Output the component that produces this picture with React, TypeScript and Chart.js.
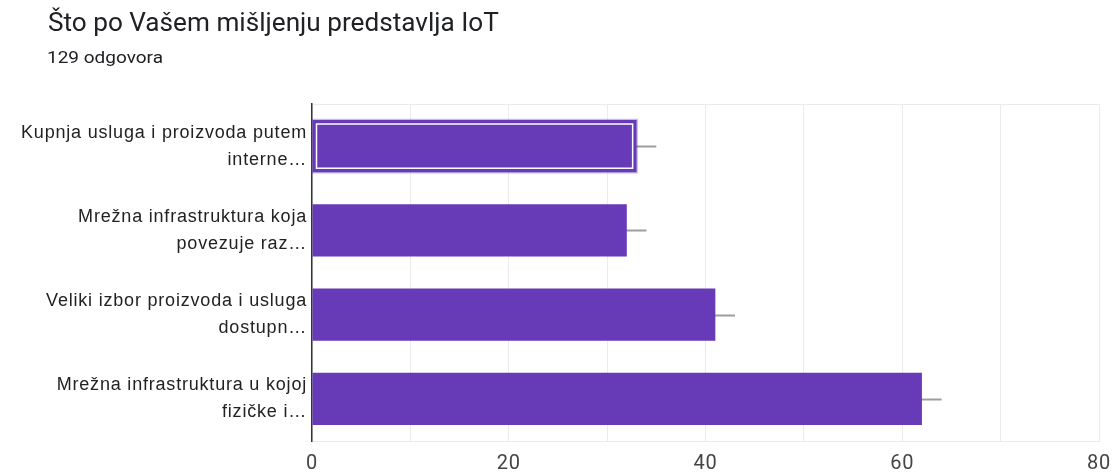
import React, { useEffect, useRef } from 'react';
import { Chart, registerables } from 'chart.js';

Chart.register(...registerables);

const TITLE = 'Što po Vašem mišljenju predstavlja IoT';
const SUBTITLE = '129 odgovora';
const categories: string[][] = [
  ['Kupnja usluga i proizvoda putem', 'interne…'],
  ['Mrežna infrastruktura koja', 'povezuje raz…'],
  ['Veliki izbor proizvoda i usluga', 'dostupn…'],
  ['Mrežna infrastruktura u kojoj', 'fizičke i…'],
];
const counts = [33, 32, 41, 62];
const errorMargins = [2, 2, 2, 2];
const xTickLabels = [0, 20, 40, 60, 80];
const HIGHLIGHTED = 0;

const BAR_COLOR = '#673ab7';

const overlayPlugin = {
  id: 'overlay',
  beforeDraw(chart: any) {
    // the reference text is slightly wider than the plain font
    chart.ctx.letterSpacing = '0.8px';
  },
  beforeDatasetsDraw(chart: any) {
    const ctx = chart.ctx;
    const xs = chart.scales.x;
    const meta = chart.getDatasetMeta(0);
    ctx.save();
    ctx.strokeStyle = '#9e9e9e';
    ctx.lineWidth = 2;
    meta.data.forEach((bar: any, i: number) => {
      const y = Math.round(bar.y) + 0.5;
      ctx.beginPath();
      ctx.moveTo(xs.getPixelForValue(counts[i] - errorMargins[i]), y);
      ctx.lineTo(xs.getPixelForValue(counts[i] + errorMargins[i]), y);
      ctx.stroke();
    });
    ctx.restore();
  },
  afterDatasetsDraw(chart: any) {
    const ctx = chart.ctx;
    const bar = chart.getDatasetMeta(0).data[HIGHLIGHTED];
    if (!bar) return;
    const { x, y, base, height } = bar.getProps(['x', 'y', 'base', 'height'], true);
    const left = Math.min(base, x);
    const right = Math.max(base, x);
    const top = y - height / 2;
    const h = height;
    ctx.save();
    ctx.strokeStyle = 'rgba(103,58,183,0.35)';
    ctx.lineWidth = 1.5;
    ctx.strokeRect(left - 0.5, top - 0.5, right - left + 1, h + 1);
    ctx.strokeStyle = '#ffffff';
    ctx.lineWidth = 1.5;
    ctx.strokeRect(left + 4, top + 4, right - left - 8, h - 8);
    ctx.restore();
  },
};

export default function App() {
  const canvasRef = useRef<HTMLCanvasElement | null>(null);

  useEffect(() => {
    if (!canvasRef.current) return;
    const chart = new Chart(canvasRef.current, {
      type: 'bar',
      data: {
        labels: categories,
        datasets: [
          {
            data: counts,
            backgroundColor: BAR_COLOR,
            borderWidth: 0,
            barPercentage: 0.62,
            categoryPercentage: 1,
          },
        ],
      },
      options: {
        indexAxis: 'y',
        animation: false,
        responsive: false,
        maintainAspectRatio: false,
        devicePixelRatio: 1,
        layout: { padding: { top: 104, right: 13, left: 0, bottom: 0 } },
        plugins: {
          legend: { display: false },
          tooltip: { enabled: false },
          title: { display: false },
        },
        scales: {
          x: {
            min: 0,
            max: 80,
            afterFit(scale: any) {
              scale.height = 33;
              scale.paddingRight = 0;
              scale.paddingLeft = 0;
            },
            ticks: {
              stepSize: 10,
              autoSkip: false,
              maxRotation: 0,
              padding: 11,
              color: '#444444',
              font: { family: 'Roboto', size: 20 },
              callback: (v: any) => (xTickLabels.includes(Number(v)) ? String(v) : ''),
            },
            grid: { color: '#ebebeb', lineWidth: 1, drawTicks: false },
            border: { display: true, color: '#ebebeb', width: 1 },
          },
          y: {
            afterFit(scale: any) {
              scale.width = 312;
            },
            ticks: {
              padding: 5,
              color: '#222222',
              font: { family: 'Liberation Sans', size: 18, lineHeight: 1.5 },
            },
            grid: {
              drawTicks: false,
              offset: true,
              color: (c: any) => (c.index === 0 ? '#ebebeb' : 'rgba(0,0,0,0)'),
            },
            border: { display: true, color: '#333333', width: 1.5 },
          },
        },
      },
      plugins: [overlayPlugin],
    });
    return () => chart.destroy();
  }, []);

  return (
    <div style={{ position: 'absolute', left: 0, top: 0, width: 1112, height: 474, background: '#fff', overflow: 'hidden' }}>
      <canvas ref={canvasRef} width={1112} height={474} style={{ position: 'absolute', left: 0, top: 0, width: 1112, height: 474 }} />
      <div style={{ position: 'absolute', left: 48, top: 10, fontFamily: 'Roboto', fontSize: 25, lineHeight: 1, color: '#202124', whiteSpace: 'nowrap', transform: 'scaleX(1.046)', transformOrigin: 'left top' }}>
        {TITLE}
      </div>
      <div style={{ position: 'absolute', left: 47, top: 49, fontFamily: 'Roboto', fontSize: 17.3, lineHeight: 1, color: '#202124', whiteSpace: 'nowrap', transform: 'scaleX(1.1)', transformOrigin: 'left top' }}>
        {SUBTITLE}
      </div>
    </div>
  );
}
